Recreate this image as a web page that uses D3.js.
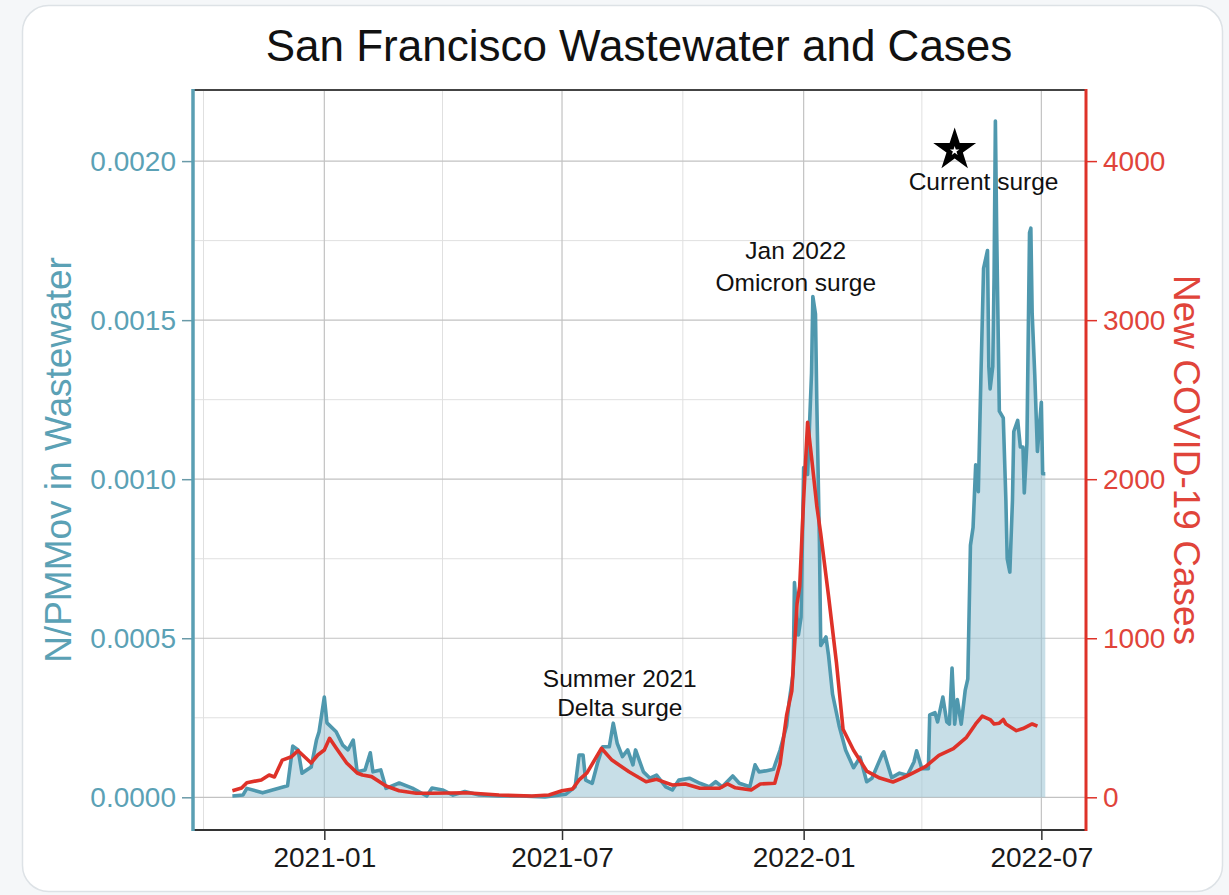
<!DOCTYPE html>
<html lang="en">
<head>
<meta charset="UTF-8">
<title>San Francisco Wastewater and Cases</title>
<script src="https://d3js.org/d3.v7.min.js"></script>
<style>
  body { margin: 0; background: #f5f7f9; }
  svg { display: block; font-family: "Liberation Sans", Arial, Helvetica, sans-serif; }
</style>
</head>
<body>
<div id="chart"></div>
<script>
// N/PMMoV in wastewater (left axis)
const wwDates = [
  "2020-10-23","2020-10-31","2020-11-03","2020-11-15","2020-12-04","2020-12-08","2020-12-12","2020-12-15",
  "2020-12-22","2020-12-26","2020-12-28","2021-01-01","2021-01-03","2021-01-10","2021-01-15","2021-01-19",
  "2021-01-23","2021-01-26","2021-02-01","2021-02-05","2021-02-07","2021-02-13","2021-02-17","2021-02-27",
  "2021-03-09","2021-03-20","2021-03-24","2021-04-01","2021-04-09","2021-04-18","2021-04-29","2021-05-14",
  "2021-05-30","2021-06-18","2021-07-04","2021-07-11","2021-07-14","2021-07-17","2021-07-19","2021-07-24",
  "2021-07-28","2021-08-01","2021-08-06","2021-08-09","2021-08-12","2021-08-16","2021-08-20","2021-08-24",
  "2021-08-26","2021-09-01","2021-09-06","2021-09-11","2021-09-18","2021-09-23","2021-09-28","2021-10-06",
  "2021-10-14","2021-10-21","2021-10-26","2021-10-31","2021-11-08","2021-11-13","2021-11-21","2021-11-25",
  "2021-11-28","2021-12-03","2021-12-09","2021-12-14","2021-12-19","2021-12-21","2021-12-24","2021-12-25",
  "2021-12-28","2021-12-30","2022-01-01","2022-01-04","2022-01-07","2022-01-08","2022-01-10","2022-01-11",
  "2022-01-13","2022-01-14","2022-01-18","2022-01-20","2022-01-23","2022-01-28","2022-02-02","2022-02-08",
  "2022-02-13","2022-02-18","2022-02-22","2022-03-02","2022-03-03","2022-03-09","2022-03-15","2022-03-21",
  "2022-03-26","2022-03-28","2022-04-01","2022-04-06","2022-04-07","2022-04-11","2022-04-13","2022-04-17",
  "2022-04-20","2022-04-22","2022-04-24","2022-04-26","2022-04-28","2022-05-01","2022-05-04","2022-05-06",
  "2022-05-08","2022-05-10","2022-05-12","2022-05-14","2022-05-16","2022-05-18","2022-05-21","2022-05-22",
  "2022-05-23","2022-05-25","2022-05-26","2022-05-27","2022-05-28","2022-05-30","2022-06-02","2022-06-04",
  "2022-06-05","2022-06-07","2022-06-09","2022-06-10","2022-06-13","2022-06-15","2022-06-17","2022-06-18",
  "2022-06-20","2022-06-22","2022-06-23","2022-06-24","2022-06-26","2022-06-28","2022-07-01","2022-07-02",
  "2022-07-04"
];
const wwValues = [
  0.000004,0.000007,0.000028,0.000014,0.000036,0.000161,0.000149,0.000076,
  0.000095,0.000180,0.000206,0.000315,0.000234,0.000206,0.000164,0.000149,
  0.000180,0.000080,0.000086,0.000140,0.000080,0.000086,0.000028,0.000045,
  0.000029,0.000004,0.000029,0.000023,0.000007,0.000018,0.000007,0.000004,
  0.000004,0.000001,0.000010,0.000033,0.000133,0.000133,0.000054,0.000044,
  0.000107,0.000159,0.000159,0.000233,0.000170,0.000128,0.000149,0.000102,
  0.000149,0.000080,0.000060,0.000070,0.000033,0.000023,0.000054,0.000060,
  0.000044,0.000033,0.000049,0.000033,0.000067,0.000044,0.000033,0.000102,
  0.000080,0.000083,0.000088,0.000148,0.000225,0.000302,0.000389,0.000675,
  0.000510,0.000565,0.001037,0.001015,0.001333,0.001574,0.001519,0.001245,
  0.000806,0.000477,0.000504,0.000444,0.000324,0.000225,0.000148,0.000093,
  0.000126,0.000049,0.000060,0.000137,0.000143,0.000062,0.000076,0.000069,
  0.000111,0.000146,0.000090,0.000090,0.000259,0.000266,0.000237,0.000315,
  0.000237,0.000230,0.000406,0.000230,0.000307,0.000230,0.000336,0.000372,
  0.000792,0.000848,0.001045,0.000961,0.001326,0.001663,0.001719,0.001354,
  0.001284,0.001354,0.001635,0.002126,0.001775,0.001214,0.001193,0.000933,
  0.000750,0.000708,0.000933,0.001150,0.001185,0.001101,0.001101,0.000957,
  0.001112,0.001775,0.001789,0.001522,0.001326,0.001087,0.001242,0.001017,
  0.001017
];

// New COVID-19 cases (right axis)
const caseDates = [
  "2020-10-23","2020-10-30","2020-11-03","2020-11-14","2020-11-20","2020-11-24","2020-11-30","2020-12-07",
  "2020-12-12","2020-12-22","2020-12-27","2021-01-01","2021-01-05","2021-01-10","2021-01-18","2021-01-26",
  "2021-01-30","2021-02-06","2021-02-17","2021-02-27","2021-03-12","2021-03-24","2021-04-19","2021-05-14",
  "2021-06-08","2021-06-21","2021-07-01","2021-07-09","2021-07-14","2021-07-20","2021-07-31","2021-08-08",
  "2021-08-21","2021-09-03","2021-09-11","2021-09-23","2021-10-03","2021-10-14","2021-10-29","2021-11-04",
  "2021-11-10","2021-11-22","2021-11-29","2021-12-10","2021-12-14","2021-12-19","2021-12-23","2021-12-27",
  "2021-12-29","2022-01-01","2022-01-04","2022-01-07","2022-01-11","2022-01-14","2022-01-20","2022-01-26",
  "2022-01-31","2022-02-08","2022-02-18","2022-02-28","2022-03-10","2022-03-18","2022-03-25","2022-04-04",
  "2022-04-14","2022-04-25","2022-05-05","2022-05-12","2022-05-17","2022-05-23","2022-05-26","2022-05-30",
  "2022-06-02","2022-06-04","2022-06-12","2022-06-17","2022-06-24","2022-06-28"
];
const caseValues = [
  41,58,92,109,140,128,234,255,
  293,216,266,297,371,310,216,153,
  140,130,71,41,25,25,29,14,
  8,14,41,52,109,153,308,234,
  161,98,113,77,84,57,57,84,
  60,46,84,88,209,515,669,1218,
  1327,1876,2358,2139,1832,1657,1262,844,
  428,296,165,121,96,124,152,194,
  264,306,377,461,511,489,461,466,
  489,461,419,432,461,447
];

const xTickDates = ["2021-01-01", "2021-07-01", "2022-01-01", "2022-07-01"];
const xMinorDates = ["2020-10-01", "2021-04-01", "2021-10-01", "2022-04-01"];
const wwTicks = [0, 0.0005, 0.001, 0.0015, 0.002];
const wwMinorTicks = [0.00025, 0.00075, 0.00125, 0.00175];
const caseTicks = [0, 1000, 2000, 3000, 4000];

const annotations = [
  { date: "2021-08-14", value: 0.000375, text: "Summer 2021" },
  { date: "2021-08-14", value: 0.000281, text: "Delta surge" },
  { date: "2021-12-26", value: 0.001720, text: "Jan 2022" },
  { date: "2021-12-26", value: 0.001617, text: "Omicron surge" },
  { date: "2022-05-18", value: 0.001935, text: "Current surge" }
];
const starPoint = { date: "2022-04-26", value: 0.002035 };

const width = 1229;
const height = 895;
const margin = { top: 90, right: 143, bottom: 65, left: 193 };
const innerWidth = width - margin.left - margin.right;
const innerHeight = height - margin.top - margin.bottom;

const teal = "#4f98ae";
const tealText = "#5ba1b5";
const red = "#de3229";
const redText = "#e0443a";

const parse = d3.utcParse("%Y-%m-%d");
const wwData = wwDates.map((d, i) => ({ date: parse(d), value: wwValues[i] }));
const caseData = caseDates.map((d, i) => ({ date: parse(d), value: caseValues[i] }));

const svg = d3.select("#chart")
  .append("svg")
  .attr("width", width)
  .attr("height", height);

// card background
svg.append("rect")
  .attr("x", 22.5).attr("y", 5.5)
  .attr("width", 1200).attr("height", 886)
  .attr("rx", 26)
  .attr("fill", "#ffffff")
  .attr("stroke", "#dde2e6")
  .attr("stroke-width", 1.5);

const g = svg.append("g")
  .attr("transform", `translate(${margin.left},${margin.top})`);

const x = d3.scaleUtc()
  .domain([parse("2020-09-23"), parse("2022-08-04")])
  .range([0, innerWidth]);

const yL = d3.scaleLinear()
  .domain([-0.0001028, 0.0022235])
  .range([innerHeight, 0]);

const yR = d3.scaleLinear()
  .domain([-205.6, 4447])
  .range([innerHeight, 0]);

// grid lines
const grid = g.append("g");
grid.selectAll(".vminor").data(xMinorDates).join("line")
  .attr("x1", d => x(parse(d))).attr("x2", d => x(parse(d)))
  .attr("y1", 0).attr("y2", innerHeight)
  .attr("stroke", "#e0e0e0").attr("stroke-width", 1);
grid.selectAll(".hminor").data(wwMinorTicks).join("line")
  .attr("x1", 0).attr("x2", innerWidth)
  .attr("y1", d => yL(d)).attr("y2", d => yL(d))
  .attr("stroke", "#e0e0e0").attr("stroke-width", 1);
grid.selectAll(".vmajor").data(xTickDates).join("line")
  .attr("x1", d => x(parse(d))).attr("x2", d => x(parse(d)))
  .attr("y1", 0).attr("y2", innerHeight)
  .attr("stroke", "#c2c2c2").attr("stroke-width", 1.2);
grid.selectAll(".hmajor").data(wwTicks).join("line")
  .attr("x1", 0).attr("x2", innerWidth)
  .attr("y1", d => yL(d)).attr("y2", d => yL(d))
  .attr("stroke", "#c2c2c2").attr("stroke-width", 1.2);

// wastewater area + line
const area = d3.area()
  .x(d => x(d.date))
  .y0(yL(0))
  .y1(d => yL(d.value));

g.append("path")
  .datum(wwData)
  .attr("d", area)
  .attr("fill", "#9fc6d5")
  .attr("opacity", 0.58);

const wwLine = d3.line()
  .x(d => x(d.date))
  .y(d => yL(d.value));

g.append("path")
  .datum(wwData)
  .attr("d", wwLine)
  .attr("fill", "none")
  .attr("stroke", teal)
  .attr("stroke-width", 3.6)
  .attr("stroke-linejoin", "round");

// cases line
const caseLine = d3.line()
  .x(d => x(d.date))
  .y(d => yR(d.value));

g.append("path")
  .datum(caseData)
  .attr("d", caseLine)
  .attr("fill", "none")
  .attr("stroke", red)
  .attr("stroke-width", 3.6)
  .attr("stroke-linejoin", "round");

// annotations
g.selectAll(".note").data(annotations).join("text")
  .attr("x", d => x(parse(d.date)))
  .attr("y", d => yL(d.value))
  .attr("text-anchor", "middle")
  .attr("dominant-baseline", "central")
  .attr("font-size", 24.5)
  .attr("fill", "#111")
  .text(d => d.text);

const sx = x(parse(starPoint.date));
const sy = yL(starPoint.value);
g.append("path")
  .attr("d", d3.symbol(d3.symbolStar, 570)())
  .attr("transform", `translate(${sx},${sy})`)
  .attr("fill", "#000");
g.append("path")
  .attr("d", d3.symbol(d3.symbolStar, 28)())
  .attr("transform", `translate(${sx},${sy + 1})`)
  .attr("fill", "#fff");

// axes
const xAxis = g.append("g")
  .attr("transform", `translate(0,${innerHeight})`)
  .call(d3.axisBottom(x)
    .tickValues(xTickDates.map(parse))
    .tickFormat(d3.utcFormat("%Y-%m"))
    .tickSize(10).tickPadding(7));
xAxis.select(".domain").remove();
xAxis.selectAll(".tick line").attr("stroke", "#333").attr("stroke-width", 1.5);
xAxis.selectAll("text").attr("font-size", 28).attr("fill", "#1a1a1a");

const leftAxis = g.append("g")
  .call(d3.axisLeft(yL)
    .tickValues(wwTicks)
    .tickFormat(d3.format(".4f"))
    .tickSize(11).tickPadding(6));
leftAxis.select(".domain").remove();
leftAxis.selectAll(".tick line").attr("stroke", "#6a9aa8").attr("stroke-width", 1.5);
leftAxis.selectAll("text").attr("font-size", 28).attr("fill", tealText);

const rightAxis = g.append("g")
  .attr("transform", `translate(${innerWidth},0)`)
  .call(d3.axisRight(yR)
    .tickValues(caseTicks)
    .tickFormat(d3.format("d"))
    .tickSize(11).tickPadding(6));
rightAxis.select(".domain").remove();
rightAxis.selectAll(".tick line").attr("stroke", red).attr("stroke-width", 1.5);
rightAxis.selectAll("text").attr("font-size", 28).attr("fill", redText);

// panel border: top/bottom dark, left teal, right red
g.append("line").attr("x1", 0).attr("x2", innerWidth).attr("y1", 0).attr("y2", 0)
  .attr("stroke", "#444").attr("stroke-width", 2);
g.append("line").attr("x1", 0).attr("x2", innerWidth).attr("y1", innerHeight).attr("y2", innerHeight)
  .attr("stroke", "#333").attr("stroke-width", 2);
g.append("line").attr("x1", 0).attr("x2", 0).attr("y1", -1).attr("y2", innerHeight + 1)
  .attr("stroke", "#5a9fb3").attr("stroke-width", 3.5);
g.append("line").attr("x1", innerWidth).attr("x2", innerWidth).attr("y1", -1).attr("y2", innerHeight + 1)
  .attr("stroke", red).attr("stroke-width", 3);

// axis titles
svg.append("text")
  .attr("transform", `translate(58,${margin.top + innerHeight / 2}) rotate(-90)`)
  .attr("text-anchor", "middle")
  .attr("dominant-baseline", "central")
  .attr("font-size", 37)
  .attr("fill", tealText)
  .text("N/PMMov in Wastewater");

svg.append("text")
  .attr("transform", `translate(1186,${margin.top + innerHeight / 2}) rotate(90)`)
  .attr("text-anchor", "middle")
  .attr("dominant-baseline", "central")
  .attr("font-size", 37)
  .attr("fill", redText)
  .text("New COVID-19 Cases");

// title
svg.append("text")
  .attr("x", 639)
  .attr("y", 61)
  .attr("text-anchor", "middle")
  .attr("font-size", 44)
  .attr("fill", "#111")
  .text("San Francisco Wastewater and Cases");
</script>
</body>
</html>
